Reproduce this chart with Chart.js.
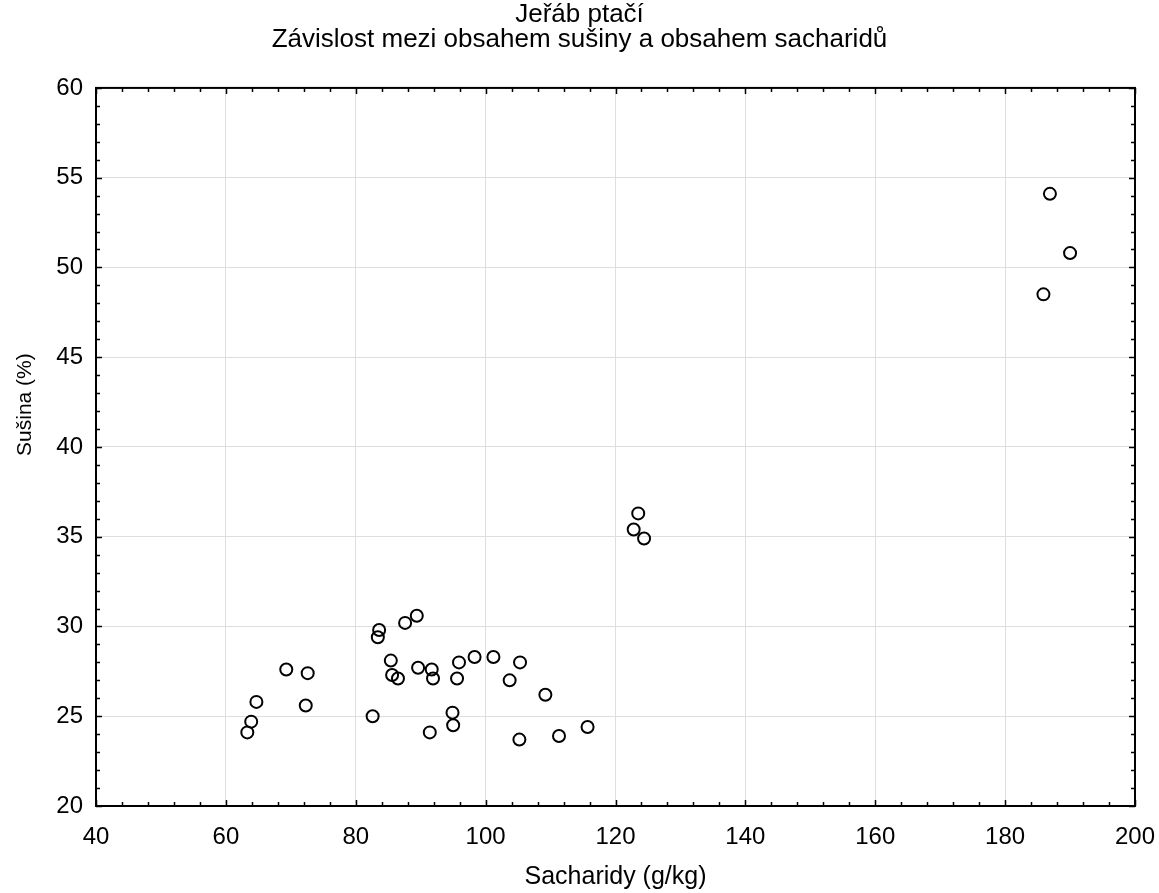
<!DOCTYPE html>
<html>
<head>
<meta charset="utf-8">
<script src="https://cdn.jsdelivr.net/npm/chart.js@4/dist/chart.umd.min.js"></script>
<style>
html,body{margin:0;padding:0;background:#fff;}
#wrap{width:1159px;height:893px;}
</style>
</head>
<body>
<div id="wrap"><canvas id="c" width="1159" height="893"></canvas></div>
<script>
const titleLines = ["Jeřáb ptačí", "Závislost mezi obsahem sušiny a obsahem sacharidů"];
const xAxisTitle = "Sacharidy (g/kg)";
const yAxisTitle = "Sušina (%)";
const sacharidy = [63.3, 63.9, 64.7, 69.3, 72.6, 72.3, 82.6, 83.6, 83.4, 87.6, 89.4, 85.4, 85.6, 86.5, 89.6, 91.7, 91.9, 95.9, 95.6, 98.3, 101.2, 94.9, 95.0, 91.4, 105.3, 103.7, 109.2, 105.2, 111.3, 115.7, 123.5, 122.8, 124.4, 186.9, 190.0, 185.9];
const susina = [24.1, 24.7, 25.8, 27.6, 27.4, 25.6, 25.0, 29.8, 29.4, 30.2, 30.6, 28.1, 27.3, 27.1, 27.7, 27.6, 27.1, 28.0, 27.1, 28.3, 28.3, 25.2, 24.5, 24.1, 28.0, 27.0, 26.2, 23.7, 23.9, 24.4, 36.3, 35.4, 34.9, 54.1, 50.8, 48.5];
const xTicks = [40, 60, 80, 100, 120, 140, 160, 180, 200];
const yTicks = [20, 25, 30, 35, 40, 45, 50, 55, 60];

const points = sacharidy.map((x, i) => ({x: x, y: susina[i]}));
const FONT = "'Liberation Sans', Arial, sans-serif";

const framePlugin = {
  id: 'frame',
  afterDatasetsDraw(chart) {
    const ctx = chart.ctx;
    const a = chart.chartArea;
    const xs = chart.scales.x, ys = chart.scales.y;
    ctx.save();
    ctx.strokeStyle = '#000';
    ctx.lineWidth = 1.5;
    ctx.beginPath();
    const xMin = xTicks[0], xMax = xTicks[xTicks.length - 1], xStep = xTicks[1] - xTicks[0];
    for (let i = 0; i <= (xMax - xMin) / xStep * 5; i++) {
      const v = xMin + i * xStep / 5;
      const len = (i % 5 === 0) ? 6 : 4;
      const px = Math.round(xs.getPixelForValue(v)) + 0.5;
      ctx.moveTo(px, a.bottom); ctx.lineTo(px, a.bottom - len);
      ctx.moveTo(px, a.top); ctx.lineTo(px, a.top + len);
    }
    const yMin = yTicks[0], yMax = yTicks[yTicks.length - 1], yStep = yTicks[1] - yTicks[0];
    for (let i = 0; i <= (yMax - yMin) / yStep * 5; i++) {
      const v = yMin + i * yStep / 5;
      const len = (i % 5 === 0) ? 6 : 4;
      const py = Math.round(ys.getPixelForValue(v)) + 0.5;
      ctx.moveTo(a.left, py); ctx.lineTo(a.left + len, py);
      ctx.moveTo(a.right, py); ctx.lineTo(a.right - len, py);
    }
    ctx.stroke();
    ctx.lineWidth = 2;
    ctx.strokeRect(a.left, a.top, a.right - a.left, a.bottom - a.top);
    // y axis title (placed as in the reference, slightly above plot centre)
    ctx.fillStyle = '#000';
    ctx.font = "21px " + FONT;
    ctx.textAlign = 'center';
    ctx.textBaseline = 'middle';
    ctx.translate(25, a.top + (a.bottom - a.top) * 0.441);
    ctx.rotate(-Math.PI / 2);
    ctx.fillText(yAxisTitle, 0, 0);
    ctx.restore();
  }
};

new Chart(document.getElementById('c'), {
  type: 'scatter',
  data: {
    datasets: [{
      data: points,
      pointRadius: 6,
      pointHoverRadius: 6,
      pointBorderWidth: 2,
      pointBorderColor: '#000',
      pointBackgroundColor: 'rgba(0,0,0,0)'
    }]
  },
  options: {
    responsive: false,
    animation: false,
    devicePixelRatio: 1,
    layout: {padding: {left: 0, right: 0, top: 2, bottom: 0}},
    plugins: {
      legend: {display: false},
      tooltip: {enabled: false},
      title: {
        display: true,
        text: titleLines,
        color: '#000',
        font: {family: FONT, size: 26, weight: 'normal', lineHeight: 0.96},
        padding: {top: 0, bottom: 36}
      }
    },
    scales: {
      x: {
        type: 'linear',
        min: 40, max: 200,
        afterBuildTicks: (s) => { s.ticks = xTicks.map(v => ({value: v})); },
        afterFit: (s) => { s.height = 87; s.paddingRight = 24; s.paddingLeft = 0; },
        grid: {color: '#dedede', lineWidth: 1, drawTicks: false},
        border: {display: false},
        ticks: {color: '#000', font: {family: FONT, size: 24}, padding: 17, maxRotation: 0},
        title: {display: true, text: xAxisTitle, color: '#000', font: {family: FONT, size: 25}, padding: {top: 4, bottom: 1}}
      },
      y: {
        type: 'linear',
        min: 20, max: 60,
        afterBuildTicks: (s) => { s.ticks = yTicks.map(v => ({value: v})); },
        afterFit: (s) => { s.width = 96; s.paddingTop = 0; s.paddingBottom = 0; },
        grid: {color: '#dedede', lineWidth: 1, drawTicks: false},
        border: {display: false},
        ticks: {color: '#000', font: {family: FONT, size: 24}, padding: 13},
        title: {display: false}
      }
    }
  },
  plugins: [framePlugin]
});
</script>
</body>
</html>
